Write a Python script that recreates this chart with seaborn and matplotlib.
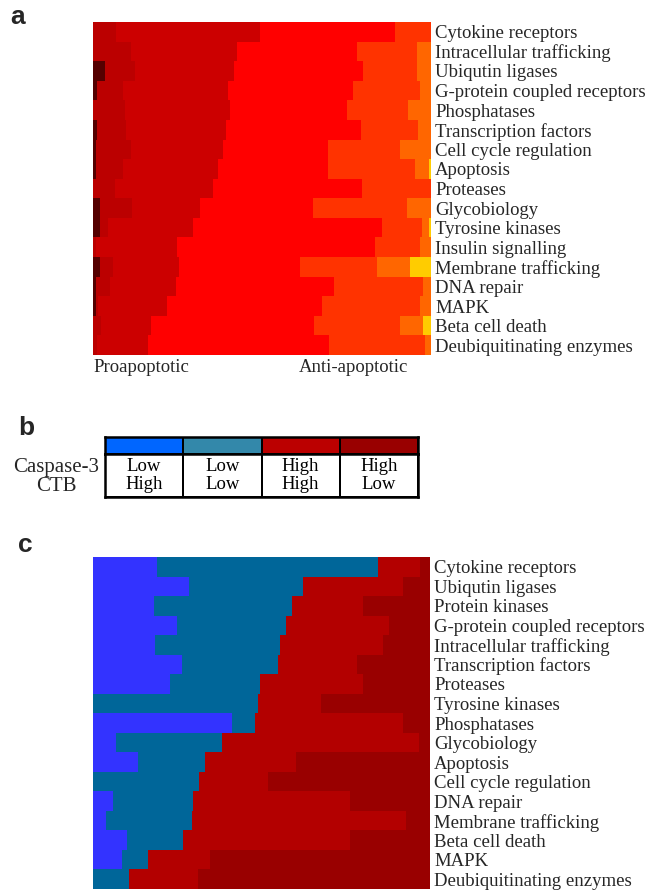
import matplotlib
matplotlib.use("Agg")
import matplotlib.pyplot as plt
from matplotlib.colors import ListedColormap
import numpy as np
import pandas as pd
import seaborn as sns

# ---- panel a: share of each score level per category (percent, left to right)
labels_a = [
    "Cytokine receptors", "Intracellular trafficking", "Ubiqutin ligases",
    "G-protein coupled receptors", "Phosphatases", "Transcription factors",
    "Cell cycle regulation", "Apoptosis", "Proteases", "Glycobiology",
    "Tyrosine kinases", "Insulin signalling", "Membrane trafficking",
    "DNA repair", "MAPK", "Beta cell death", "Deubiquitinating enzymes",
]
levels_a = ["L1", "L2", "L3", "L4", "L5", "L6", "L7"]
colors_a = ["#550000", "#BB0000", "#CC0000", "#FF0000", "#FF3300", "#FF6600", "#FFCC00"]
a_l1 = [0, 0, 3.6, 1.2, 0, 1.2, 0.9, 0.9, 0, 2.1, 2.1, 0, 2.1, 0.9, 0.9, 0, 0]
a_l2 = [6.8, 11.2, 8.9, 7.7, 9.5, 8.6, 10.4, 8.0, 6.5, 9.5, 2.4, 0.9, 3.8, 4.1, 0.6, 2.4, 1.2]
a_l3 = [42.6, 31.4, 29.3, 31.1, 31.1, 29.6, 27.2, 28.1, 29.0, 20.1, 25.1, 24.0, 19.5, 19.5, 20.4, 14.8, 15.1]
a_l4 = [39.9, 35.5, 38.2, 37.0, 34.6, 39.9, 31.1, 32.5, 44.1, 33.4, 55.9, 58.6, 35.8, 46.7, 45.9, 48.2, 53.6]
a_l5 = [10.7, 17.8, 16.0, 19.8, 18.0, 16.9, 21.3, 25.7, 20.4, 27.8, 11.8, 13.3, 22.8, 26.3, 29.0, 25.4, 28.4]
a_l6 = [0, 4.1, 4.1, 3.3, 6.8, 3.8, 9.2, 4.3, 0, 7.1, 2.1, 3.3, 9.8, 2.4, 3.3, 6.8, 1.8]
a_l7 = [0, 0, 0, 0, 0, 0, 0, 0.5, 0, 0, 0.6, 0, 6.2, 0, 0, 2.4, 0]

# ---- panel b: legend table
groups_b = ["Low/High", "Low/Low", "High/High", "High/Low"]
colors_b = ["#0066FF", "#3388AA", "#BB0000", "#990000"]
caspase3 = ["Low", "Low", "High", "High"]
ctb = ["High", "Low", "High", "Low"]

# ---- panel c: share of each Caspase-3/CTB group per category (percent)
labels_c = [
    "Cytokine receptors", "Ubiqutin ligases", "Protein kinases",
    "G-protein coupled receptors", "Intracellular trafficking",
    "Transcription factors", "Proteases", "Tyrosine kinases", "Phosphatases",
    "Glycobiology", "Apoptosis", "Cell cycle regulation", "DNA repair",
    "Membrane trafficking", "Beta cell death", "MAPK", "Deubiquitinating enzymes",
]
colors_c = ["#3333FF", "#006699", "#B30000", "#990000"]
c_low_high = [19.0, 28.5, 18.1, 24.9, 18.4, 26.4, 22.8, 0, 41.2, 6.8, 13.4, 0, 5.9, 3.9, 10.1, 8.6, 0]
c_low_low = [65.6, 33.8, 40.9, 32.3, 37.1, 28.5, 26.7, 49.0, 6.8, 31.5, 19.9, 31.5, 23.7, 25.5, 16.6, 7.7, 10.7]
c_high_high = [12.5, 29.7, 21.1, 30.6, 30.6, 23.4, 30.6, 18.7, 43.9, 58.5, 27.0, 20.5, 46.6, 63.5, 49.6, 18.4, 20.5]
c_high_low = [3.0, 8.0, 19.9, 12.2, 13.9, 21.7, 19.9, 32.3, 8.0, 3.3, 39.8, 48.1, 23.7, 7.1, 23.7, 65.3, 68.8]

SERIF = "Liberation Serif"
SANS = "Liberation Sans"

sns.set_style("white")
plt.rcParams["font.family"] = [SERIF, "DejaVu Serif"]


def stacked_rows(ax, labels, names, shares, colors):
    wide = pd.DataFrame(dict(zip(names, shares)), index=labels)
    wide = wide.div(wide.sum(axis=1), axis=0) * 100
    cum = wide.cumsum(axis=1).reset_index(names="group")
    long = cum.melt(id_vars="group", var_name="level", value_name="edge")
    # widest cumulative bar first so the earlier levels sit on top
    sns.barplot(
        data=long, x="edge", y="group", hue="level",
        hue_order=names[::-1], palette=dict(zip(names, colors)),
        dodge=False, width=1, saturation=1, linewidth=0,
        errorbar=None, legend=False, ax=ax,
    )
    for p in ax.patches:
        p.set_antialiased(False)
    ax.set_xlim(0, 100)
    ax.set_xlabel("")
    ax.set_ylabel("")
    ax.set_xticks([])
    ax.yaxis.tick_right()
    ax.tick_params(axis="y", length=0, pad=3, labelsize=13.5)
    sns.despine(ax=ax, left=True, bottom=True)


W, H = 659, 891
fig = plt.figure(figsize=(W / 100, H / 100), dpi=100)


def box(x0, y0, x1, y1):
    return [x0 / W, 1 - y1 / H, (x1 - x0) / W, (y1 - y0) / H]


# panel a
ax_a = fig.add_axes(box(93, 22, 431, 355))
stacked_rows(ax_a, labels_a, levels_a,
             [a_l1, a_l2, a_l3, a_l4, a_l5, a_l6, a_l7], colors_a)
ax_a.text(0, -0.012, "Proapoptotic", transform=ax_a.transAxes,
          ha="left", va="top", fontsize=13.5)
ax_a.text(0.61, -0.012, "Anti-apoptotic", transform=ax_a.transAxes,
          ha="left", va="top", fontsize=13.5)

# panel b
ax_band = fig.add_axes(box(105, 437, 418, 454))
sns.heatmap(np.arange(4).reshape(1, 4), cmap=ListedColormap(colors_b),
            cbar=False, linewidths=1.2, linecolor="black",
            xticklabels=False, yticklabels=False, ax=ax_band)
ax_txt = fig.add_axes(box(105, 454, 418, 497))
cells = np.array([[f"{a}\n{b}" for a, b in zip(caspase3, ctb)]])
sns.heatmap(np.zeros((1, 4)), cmap=ListedColormap(["white"]), cbar=False,
            annot=cells, fmt="", linewidths=1.2, linecolor="black",
            annot_kws={"fontsize": 13.5, "color": "black", "linespacing": 1.1,
                        "family": SERIF},
            xticklabels=False, yticklabels=False, ax=ax_txt)
for axb in (ax_band, ax_txt):
    for s in axb.spines.values():
        s.set_visible(True)
        s.set_linewidth(1.8)
        s.set_color("black")
fig.text(56 / W, 1 - 477 / H, "Caspase-3\nCTB", ha="center", va="center",
         fontsize=15, linespacing=1.0)

# panel c
ax_c = fig.add_axes(box(93, 557, 430, 889))
stacked_rows(ax_c, labels_c, groups_b,
             [c_low_high, c_low_low, c_high_high, c_high_low], colors_c)

for letter, (x, y) in zip("abc", [(10, 17), (18, 428), (18, 545)]):
    fig.text(x / W, 1 - y / H, letter, family=SANS, fontweight="bold",
             fontsize=19, ha="left", va="center")

fig.savefig("out.png", dpi=100)
